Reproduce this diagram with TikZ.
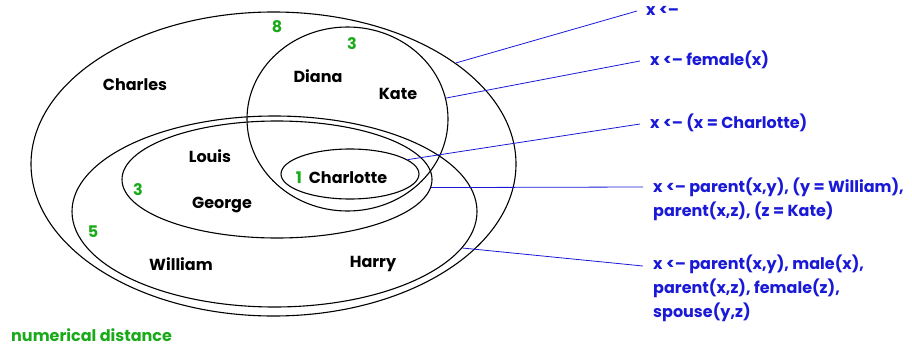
\documentclass[tikz,border=0pt]{standalone}
\usepackage{fontspec}
\setmainfont{Poppins}
\usetikzlibrary{shapes.geometric,calc}
\definecolor{lblue}{RGB}{25,25,215}
\definecolor{lgreen}{RGB}{25,170,25}
\begin{document}
\begin{tikzpicture}[x=1pt,y=-1pt,
  setel/.style={ellipse,draw=black,line width=1.1pt,inner sep=0pt},
  who/.style={font=\fontsize{16}{20}\selectfont\bfseries,text=black,inner sep=0pt,anchor=base},
  num/.style={font=\fontsize{16}{20}\selectfont\bfseries,text=lgreen,inner sep=0pt,anchor=base},
  rule/.style={font=\fontsize{16}{20}\selectfont\bfseries,text=lblue,inner sep=0pt,anchor=base west},
  link/.style={draw=lblue,line width=0.8pt}]
\useasboundingbox (0,0) rectangle (912,348);
% sets
\node[setel,minimum width=485pt,minimum height=304pt] (all) at (273.5,164) {};
\node[setel,minimum width=201pt,minimum height=184pt] (fem) at (347.5,119) {};
\node[setel,minimum width=405pt,minimum height=191pt] (fam) at (274.5,211.5) {};
\node[setel,minimum width=310pt,minimum height=117pt] (kids) at (277,179.5) {};
\node[setel,minimum width=138pt,minimum height=50pt] (cha) at (350,174) {};
% names
\node[who] (charles) at (135,90) {Charles};
\node[who] (diana) at (318,82) {Diana};
\node[who] (kate) at (398,99) {Kate};
\node[who] (louis) at (210,162) {Louis};
\node[who] (george) at (222,208) {George};
\node[who] (charlotte) at (348,183) {Charlotte};
\node[who] (william) at (181,270) {William};
\node[who] (harry) at (373,267) {Harry};
% distances
\node[num] (d8) at (277,32) {8};
\node[num] (d3a) at (352,49) {3};
\node[num] (d3b) at (138,195) {3};
\node[num] (d1) at (299,183) {1};
\node[num] (d5) at (93,237) {5};
\node[num,anchor=base west] (dist) at (11,341) {numerical distance};
% rules
\node[rule] (r1) at (646,15) {x <–};
\node[rule] (r2) at (650,65) {x <– female(x)};
\node[rule] (r3) at (650,128) {x <– (x = Charlotte)};
\node[rule] (r4a) at (653,192) {x <– parent(x,y), (y = William),};
\node[rule] (r4b) at (653,216) {parent(x,z), (z = Kate)};
\node[rule] (r5a) at (653,269) {x <– parent(x,y), male(x),};
\node[rule] (r5b) at (653,293) {parent(x,z), female(z),};
\node[rule] (r5c) at (653,317) {spouse(y,z)};
% links
\draw[link] (all.29) -- ($(r1.base west)+(-9,-4)$);
\draw[link] (fem.12) -- ($(r2.base west)+(-10,-4)$);
\draw[link] (cha.14) -- ($(r3.base west)+(-10,-4)$);
\draw[link] (kids.-3) -- ($(r4a.base west)+(-10,-5)$);
\draw[link] (fam.-11) -- ($(r5a.base west)+(-10,-3)$);
\end{tikzpicture}
\end{document}
